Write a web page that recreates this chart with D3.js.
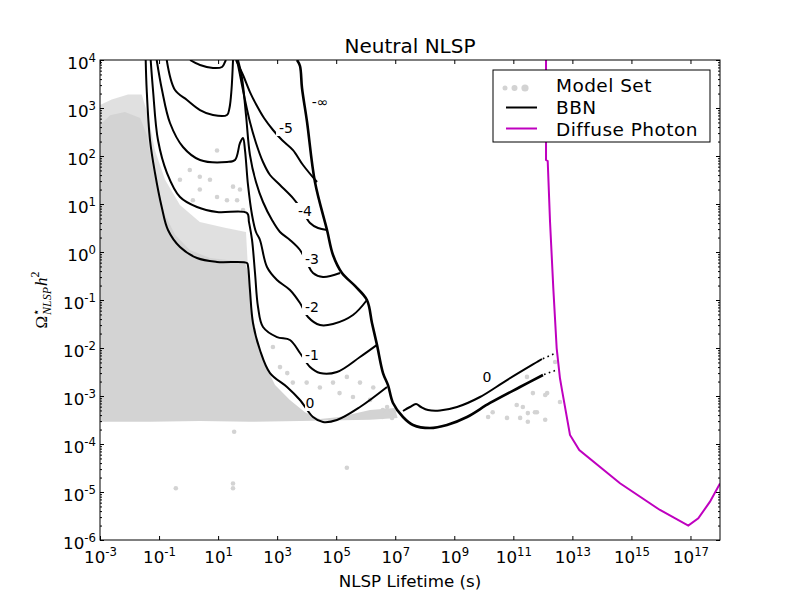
<!DOCTYPE html>
<html>
<head>
<meta charset="utf-8">
<script src="https://cdn.jsdelivr.net/npm/d3@7"></script>
<style>
  body { margin: 0; background: #fff; }
  text { font-family: "DejaVu Sans", sans-serif; }
</style>
</head>
<body>
<script>
// Values, as [NLSP lifetime (s), Omega h^2]

// BBN contours (labels 0 ... -5 continue up out of the frame and back in)
let contour0 = [
  [0.0353, 1e4], [0.0382, 2370], [0.0494, 215], [0.0729, 44.2], [0.123, 8.66],
  [0.201, 2.87], [0.513, 1.27], [1.93, 0.75], [9.18, 0.619], [95.3, 0.59],
  [103, 0.511], [120, 0.162], [152, 0.0332], [262, 9.09e-3], [573, 3.01e-3],
  [2160, 1.54e-3], [5940, 8.25e-4], [1.64e4, 3.65e-4], [3.57e4, 2.87e-4],
  [1.06e5, 3.16e-4], [6.4e5, 5.9e-4], [5.26e6, 1.54e-3],
];
let contourM1 = [
  [0.0521, 1e4], [0.0624, 2370], [0.092, 215], [0.186, 44.2], [0.513, 14.0],
  [1.93, 8.66], [9.18, 6.81], [95.3, 6.5], [111, 4.22], [141, 1.78], [178, 0.365],
  [225, 0.0715], [332, 0.0274], [989, 0.0169], [2720, 0.0147], [5940, 7.87e-3],
  [1.3e4, 4.02e-3], [2.83e4, 3.01e-3], [1.06e5, 3.16e-3], [6.4e5, 6.49e-3],
  [2.41e6, 0.0116],
];
let contourM2 = [
  [0.0832, 1e4], [0.126, 2370], [0.235, 487], [0.647, 154], [2.44, 82.6],
  [20, 75], [37.4, 82.6], [55.2, 187], [69.7, 237], [81.4, 133], [103, 24.9],
  [141, 5.9], [192, 2.61], [262, 1.78], [453, 0.487], [989, 0.261], [2720, 0.162],
  [5940, 0.0866], [1.11e4, 0.0443], [2.83e4, 0.0301], [7.8e4, 0.0316],
  [3.71e5, 0.0487], [1.1e6, 0.1],
];
let contourM3Left = [
  [0.182, 1e4], [0.347, 2370], [0.885, 1470], [2.44, 908], [6.71, 714],
  [20, 714], [24.3, 1000], [28.4, 2370], [32, 1e4],
];
let contourM3Right = [
  [47.2, 1e4], [64.6, 4220], [88.1, 714], [120, 105], [192, 28.7], [332, 11],
  [670, 4.64], [1250, 2.61], [2720, 1.78], [5940, 1.1], [1.03e4, 0.59],
  [1.64e4, 0.365], [3.57e4, 0.301], [1.35e5, 0.365],
];
let contourM4Left = [
  [1.12, 1e4], [2.44, 7870], [6.71, 6810], [13.6, 7150], [17.1, 9090], [18.5, 1e4],
];
let contourM4Right = [
  [43.7, 1e4], [59.7, 3830], [81.4, 1470], [120, 511], [192, 187], [332, 75],
  [573, 40.2], [1250, 24.9], [3440, 13.3], [6950, 7.5], [1.3e4, 4.02],
  [2.42e4, 3.16], [4.89e4, 2.87],
];
let contourM5 = [
  [40.4, 1e4], [69.8, 4870], [120, 2150], [208, 1100], [359, 619], [724, 348],
  [1460, 215], [3440, 133], [7520, 64.9], [2.24e4, 28.7],
];
// -infinity edge and the long-lifetime branch below it
let contourEdge = [
  [4710, 1e4], [5940, 7500], [6950, 2610], [1.03e4, 511], [1.91e4, 28.7],
  [4.89e4, 2.87], [7.8e4, 0.866], [1.57e5, 0.365], [4.34e5, 0.196], [1.1e6, 0.1],
  [1.63e6, 0.0332], [2.41e6, 0.0116], [3.85e6, 3.01e-3], [5.69e6, 1.69e-3],
  [8.4e6, 7.15e-4], [1.83e7, 3.65e-4], [4.0e7, 2.49e-4], [1.5e8, 2.15e-4],
  [5.66e8, 2.49e-4], [2.7e9, 3.65e-4], [1.62e10, 7.15e-4], [1.68e11, 1.54e-3],
  [1.01e12, 2.74e-3],
];
let contour0Late = [
  [1.83e7, 4.87e-4], [3.16e7, 5.9e-4], [5.05e7, 6.81e-4], [7.46e7, 5.9e-4],
  [1.29e8, 5.11e-4], [3.28e8, 4.99e-4], [1.24e9, 5.9e-4], [7.43e9, 9.53e-4],
  [6.1e10, 2.15e-3], [6.32e11, 5.11e-3], [9.35e11, 5.9e-3],
];
let dottedTails = [
  [[1.0e12, 6.0e-3], [2.8e12, 7.9e-3]],
  [[1.1e12, 2.8e-3], [3.0e12, 3.5e-3]],
];

// Diffuse photon bound
let diffusePhoton = [
  [1.28e12, 1e4], [1.28e12, 82.6], [1.46e12, 78.7], [1.75e12, 4.28],
  [2.26e12, 0.175], [2.94e12, 9.86e-3], [3.8e12, 2.34e-3], [4.55e12, 1.23e-3],
  [8.3e12, 1.54e-4], [1.71e13, 7.5e-5], [4.1e14, 1.52e-5], [9.27e15, 4.22e-6],
  [8.43e16, 1.99e-6], [1.84e17, 2.83e-6], [4.58e17, 6.28e-6], [1e18, 1.5e-5],
];

// Contour labels: [text, lifetime, Omega]
let contourLabels = [
  ["-\u221e", 2.83e4, 1330], ["-5", 2000, 383], ["-4", 8770, 7.15],
  ["-3", 1.52e4, 0.715], ["-2", 1.52e4, 0.0715], ["-1", 1.52e4, 7.15e-3],
  ["0", 1.3e4, 7.15e-4], ["0", 1.28e10, 2.49e-3],
];

// Model set: dense core, thinner fringe, and isolated points
let modelCore = [
  [1e-3, 440], [2.2e-3, 710], [7.0e-3, 830], [0.023, 620], [0.039, 270],
  [0.058, 65], [0.092, 20], [0.16, 5.9], [0.35, 2.3], [1.1, 1.1], [5.3, 0.75],
  [81, 0.62], [110, 0.33], [140, 0.062], [220, 0.012], [390, 4.4e-3],
  [850, 1.7e-3], [2700, 8.3e-4], [8800, 4.6e-4], [2.8e4, 3.3e-4],
  [1.3e5, 3.65e-4], [1.4e6, 5.1e-4], [9.8e6, 5.6e-4], [1.2e7, 3.5e-4],
  [1.4e6, 3.2e-4], [5900, 3.0e-4], [120, 2.9e-4], [2.4, 3.0e-4],
  [0.049, 2.9e-4], [1e-3, 2.9e-4],
];
let modelFringe = [
  [1e-3, 1150], [2.5e-3, 1500], [8.9e-3, 1900], [0.026, 1900], [0.042, 710],
  [0.073, 130], [0.16, 32], [0.51, 9.5], [2.4, 4.2], [17, 3.2], [88, 2.6],
  [100, 0.62], [1e-3, 0.62],
];
let modelPoints = [
  [9.2, 130], [1.1, 51], [2.4, 37], [5.3, 32], [32, 23], [55, 20], [20, 12],
  [2.4, 20], [9.2, 14], [1.4, 12], [0.51, 32], [44, 12], [70, 7.5],
  [720, 0.0105], [1250, 4.0e-3], [2200, 3.0e-3], [3400, 1.9e-3], [1.0e4, 1.9e-3],
  [2.8e4, 1.5e-3], [7.8e4, 1.9e-3], [2.3e5, 2.5e-3], [6.4e5, 1.9e-3],
  [1.8e6, 1.5e-3], [1.3e5, 1.15e-3], [3.7e5, 9.5e-4], [1.4e6, 8.3e-4],
  [5.3e6, 5.9e-4], [8.4e6, 4.4e-4], [35, 1.8e-4], [0.37, 1.2e-5], [32, 1.5e-5],
  [32, 1.2e-5], [2.3e5, 3.2e-5], [2.9e11, 2.5e-3], [4.6e11, 1.15e-3],
  [1.4e12, 1.15e-3], [1.3e11, 6.5e-4], [2.1e11, 5.9e-4], [6.3e11, 4.6e-4],
  [3.1e11, 4.4e-4], [1.7e11, 3.5e-4], [3.1e11, 2.9e-4], [1.2e12, 3.2e-4],
  [6.1e10, 3.5e-4], [1.4e10, 3.65e-4], [2.0e10, 4.6e-4], [3.8e6, 5.1e-4],
  [5.7e6, 4.4e-4], [7.8e6, 3.5e-4], [3.6e6, 3.65e-4], [2.6e12, 5.1e-3],
  [1.2e12, 1.05e-3], [3.8e12, 7.5e-4], [5.4e11, 4.6e-4],
];

// Tick values
let xTicks = [1e-3, 1e-1, 1e1, 1e3, 1e5, 1e7, 1e9, 1e11, 1e13, 1e15, 1e17];
let yTicks = [1e-6, 1e-5, 1e-4, 1e-3, 1e-2, 1e-1, 1e0, 1e1, 1e2, 1e3, 1e4];
let yMinorTicks = [];
yTicks.slice(0, -1).forEach((p) => {
  [2, 3, 4, 5, 6, 7, 8, 9].forEach((m) => yMinorTicks.push(m * p));
});

let width = 800;
let height = 600;
let margin = { top: 60, right: 80, bottom: 60, left: 100 };

let svg = d3
  .select("body")
  .append("svg")
  .attr("width", width)
  .attr("height", height);

let x = d3
  .scaleLog()
  .domain([1e-3, 1e18])
  .range([margin.left, width - margin.right]);
let y = d3
  .scaleLog()
  .domain([1e-6, 1e4])
  .range([height - margin.bottom, margin.top]);

svg
  .append("clipPath")
  .attr("id", "plot")
  .append("rect")
  .attr("x", margin.left)
  .attr("y", margin.top)
  .attr("width", width - margin.left - margin.right)
  .attr("height", height - margin.top - margin.bottom);

let plot = svg.append("g").attr("clip-path", "url(#plot)");

let area = d3.line().x((d) => x(d[0])).y((d) => y(d[1]));
let smooth = d3
  .line()
  .x((d) => x(d[0]))
  .y((d) => y(d[1]))
  .curve(d3.curveCatmullRom.alpha(0.5));

// Model set
plot
  .append("path")
  .attr("d", area(modelFringe) + "Z")
  .attr("fill", "#d3d3d3")
  .attr("fill-opacity", 0.7);
plot
  .append("path")
  .attr("d", area(modelCore) + "Z")
  .attr("fill", "#d3d3d3");
plot
  .selectAll(".pt")
  .data(modelPoints)
  .join("circle")
  .attr("class", "pt")
  .attr("cx", (d) => x(d[0]))
  .attr("cy", (d) => y(d[1]))
  .attr("r", 2.3)
  .attr("fill", "#d3d3d3");

// BBN contours
let thin = [
  contour0, contourM1, contourM2, contourM3Left, contourM3Right,
  contourM4Left, contourM4Right, contourM5, contour0Late,
];
plot
  .selectAll(".bbn")
  .data(thin)
  .join("path")
  .attr("class", "bbn")
  .attr("d", (d) => smooth(d))
  .attr("fill", "none")
  .attr("stroke", "black")
  .attr("stroke-width", 2);

plot
  .append("path")
  .attr("d", smooth(contourEdge))
  .attr("fill", "none")
  .attr("stroke", "black")
  .attr("stroke-width", 2.6);

plot
  .selectAll(".tail")
  .data(dottedTails)
  .join("path")
  .attr("class", "tail")
  .attr("d", (d) => area(d))
  .attr("fill", "none")
  .attr("stroke", "black")
  .attr("stroke-width", 1.6)
  .attr("stroke-dasharray", "1.6,3.4");

// Diffuse photon
plot
  .append("path")
  .attr("d", area(diffusePhoton))
  .attr("fill", "none")
  .attr("stroke", "#bf00bf")
  .attr("stroke-width", 2);

// Inline contour labels
let labels = plot
  .selectAll(".clabel")
  .data(contourLabels)
  .join("g")
  .attr("class", "clabel")
  .attr("transform", (d) => `translate(${x(d[1])},${y(d[2])})`);
labels
  .append("rect")
  .attr("x", (d) => -d[0].length * 5)
  .attr("y", -8)
  .attr("width", (d) => d[0].length * 10)
  .attr("height", 16)
  .attr("fill", "white");
labels
  .append("text")
  .attr("text-anchor", "middle")
  .attr("dy", "0.36em")
  .style("font-size", "14px")
  .text((d) => d[0]);

// Frame
svg
  .append("rect")
  .attr("x", margin.left)
  .attr("y", margin.top)
  .attr("width", width - margin.left - margin.right)
  .attr("height", height - margin.top - margin.bottom)
  .attr("fill", "none")
  .attr("stroke", "black")
  .attr("stroke-width", 1);

function power(sel) {
  sel.each(function (d) {
    let t = d3.select(this).text("");
    t.append("tspan").text("10");
    t.append("tspan")
      .attr("dy", -7)
      .style("font-size", "11.7px")
      .text(Math.round(Math.log10(d)));
  });
}

function styleAxis(g) {
  g.select(".domain").remove();
  g.attr("font-family", null).attr("font-size", null);
  g.selectAll("line").attr("stroke-width", 1);
  g.selectAll("text").style("font-size", "16.7px");
}

let bottom = svg
  .append("g")
  .attr("transform", `translate(0,${height - margin.bottom})`)
  .call(d3.axisBottom(x).tickValues(xTicks).tickSizeInner(-4).tickSizeOuter(0))
  .call(styleAxis);
bottom.selectAll("text").attr("dy", null).attr("y", 23).call(power);

svg
  .append("g")
  .attr("transform", `translate(0,${margin.top})`)
  .call(d3.axisTop(x).tickValues(xTicks).tickSizeInner(-4).tickSizeOuter(0).tickFormat(""))
  .call(styleAxis);

let left = svg
  .append("g")
  .attr("transform", `translate(${margin.left},0)`)
  .call(d3.axisLeft(y).tickValues(yTicks).tickSizeInner(-4).tickSizeOuter(0).tickPadding(4))
  .call(styleAxis);
left.selectAll("text").attr("dy", null).attr("y", 8).call(power);

svg
  .append("g")
  .attr("transform", `translate(${margin.left},0)`)
  .call(d3.axisLeft(y).tickValues(yMinorTicks).tickSizeInner(-2).tickSizeOuter(0).tickFormat(""))
  .call(styleAxis);

svg
  .append("g")
  .attr("transform", `translate(${width - margin.right},0)`)
  .call(d3.axisRight(y).tickValues(yTicks).tickSizeInner(-4).tickSizeOuter(0).tickFormat(""))
  .call(styleAxis);

svg
  .append("g")
  .attr("transform", `translate(${width - margin.right},0)`)
  .call(d3.axisRight(y).tickValues(yMinorTicks).tickSizeInner(-2).tickSizeOuter(0).tickFormat(""))
  .call(styleAxis);

// Title and axis labels
svg
  .append("text")
  .attr("x", 410)
  .attr("y", 53)
  .attr("text-anchor", "middle")
  .style("font-size", "20px")
  .text("Neutral NLSP");

svg
  .append("text")
  .attr("x", 410)
  .attr("y", 587)
  .attr("text-anchor", "middle")
  .style("font-size", "16.7px")
  .text("NLSP Lifetime (s)");

let ylab = svg
  .append("text")
  .attr("transform", "translate(47,300) rotate(-90)")
  .attr("text-anchor", "middle")
  .style("font-family", "'Liberation Serif', serif")
  .style("font-size", "17px");
ylab.append("tspan").text("\u03a9");
ylab.append("tspan").attr("dy", -7).style("font-size", "12px").text("\u22c6");
ylab
  .append("tspan")
  .attr("dx", -7)
  .attr("dy", 11)
  .style("font-size", "12px")
  .style("font-style", "italic")
  .text("NLSP");
ylab
  .append("tspan")
  .attr("dx", 1)
  .attr("dy", -4)
  .style("font-style", "italic")
  .text("h");
ylab.append("tspan").attr("dy", -8).style("font-size", "12px").text("2");

// Legend
let legend = svg.append("g");
legend
  .append("rect")
  .attr("x", 493)
  .attr("y", 70)
  .attr("width", 217)
  .attr("height", 72)
  .attr("fill", "white")
  .attr("stroke", "black")
  .attr("stroke-width", 1);
[[505, 2.5], [514.5, 3], [525, 3.6]].forEach(([cx, r]) => {
  legend.append("circle").attr("cx", cx).attr("cy", 88).attr("r", r).attr("fill", "#d3d3d3");
});
legend.append("line").attr("x1", 506).attr("x2", 537).attr("y1", 107.5).attr("y2", 107.5)
  .attr("stroke", "black").attr("stroke-width", 2);
legend.append("line").attr("x1", 506).attr("x2", 537).attr("y1", 128.5).attr("y2", 128.5)
  .attr("stroke", "#bf00bf").attr("stroke-width", 2);
[["Model Set", 92], ["BBN", 114], ["Diffuse Photon", 136]].forEach(([t, by]) => {
  legend
    .append("text")
    .attr("x", 556)
    .attr("y", by)
    .style("font-size", "18.5px")
    .style("letter-spacing", "0.45px")
    .text(t);
});
</script>
</body>
</html>
